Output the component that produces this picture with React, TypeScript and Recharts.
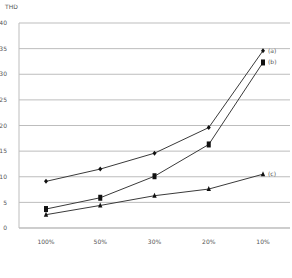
import { LineChart, Line, XAxis, YAxis, CartesianGrid } from "recharts";

const categories = ["100%", "50%", "30%", "20%", "10%"];
const seriesA = [9.1, 11.5, 14.6, 19.6, 34.6];
const seriesB = [3.7, 5.9, 10.1, 16.3, 32.3];
const seriesC = [2.6, 4.4, 6.3, 7.6, 10.5];
const yTicks = [0, 5, 10, 15, 20, 25, 30, 35, 40];
const seriesNames = ["(a)", "(b)", "(c)"];

const data = categories.map((c, i) => ({
  name: c,
  a: seriesA[i],
  b: seriesB[i],
  c: seriesC[i],
}));

const lineColor = "#3a3a3a";

const DiamondDot = (props: any) => {
  const { cx, cy } = props;
  if (cx == null || cy == null) return null;
  return <path d={`M${cx},${cy - 2.5}L${cx + 2},${cy}L${cx},${cy + 2.5}L${cx - 2},${cy}Z`} fill="#111" />;
};

const SquareDot = (props: any) => {
  const { cx, cy } = props;
  if (cx == null || cy == null) return null;
  return <rect x={cx - 2} y={cy - 3} width={4} height={6} fill="#111" />;
};

const TriangleDot = (props: any) => {
  const { cx, cy } = props;
  if (cx == null || cy == null) return null;
  return <path d={`M${cx},${cy - 3}L${cx + 2.2},${cy + 2}L${cx - 2.2},${cy + 2}Z`} fill="#111" />;
};

const endLabel = (text: string) => (props: any) => {
  const { x, y, index } = props;
  if (index !== categories.length - 1) return null;
  return (
    <text x={x + 5} y={y + 2} fontSize={6} fill="#555" fontFamily="DejaVu Sans">
      {text}
    </text>
  );
};

export default function App() {
  return (
    <div style={{ position: "absolute", left: 0, top: 0, width: 292, height: 278, background: "#fff" }}>
      <span
        style={{
          position: "absolute",
          left: 5,
          top: 3,
          fontSize: 6,
          color: "#555",
          fontFamily: "DejaVu Sans",
        }}
      >
        THD
      </span>
      <LineChart width={292} height={278} data={data} margin={{ top: 23, right: 2, bottom: 20, left: 0 }}>
        <CartesianGrid vertical={false} stroke="#bdbdbd" strokeWidth={1} />
        <XAxis
          dataKey="name"
          axisLine={{ stroke: "#bdbdbd" }}
          tickLine={false}
          padding={{ left: 27, right: 27 }}
          tick={{ fontSize: 6, fill: "#555", fontFamily: "DejaVu Sans" }}
          tickMargin={6}
        />
        <YAxis
          width={19}
          domain={[0, 40]}
          ticks={yTicks}
          axisLine={{ stroke: "#bdbdbd" }}
          tickLine={false}
          tick={{ fontSize: 6, fill: "#555", fontFamily: "DejaVu Sans" }}
          tickMargin={6}
        />
        <Line
          dataKey="a"
          stroke={lineColor}
          strokeWidth={1}
          dot={<DiamondDot />}
          isAnimationActive={false}
          label={endLabel(seriesNames[0])}
        />
        <Line
          dataKey="b"
          stroke={lineColor}
          strokeWidth={1}
          dot={<SquareDot />}
          isAnimationActive={false}
          label={endLabel(seriesNames[1])}
        />
        <Line
          dataKey="c"
          stroke={lineColor}
          strokeWidth={1}
          dot={<TriangleDot />}
          isAnimationActive={false}
          label={endLabel(seriesNames[2])}
        />
      </LineChart>
    </div>
  );
}
